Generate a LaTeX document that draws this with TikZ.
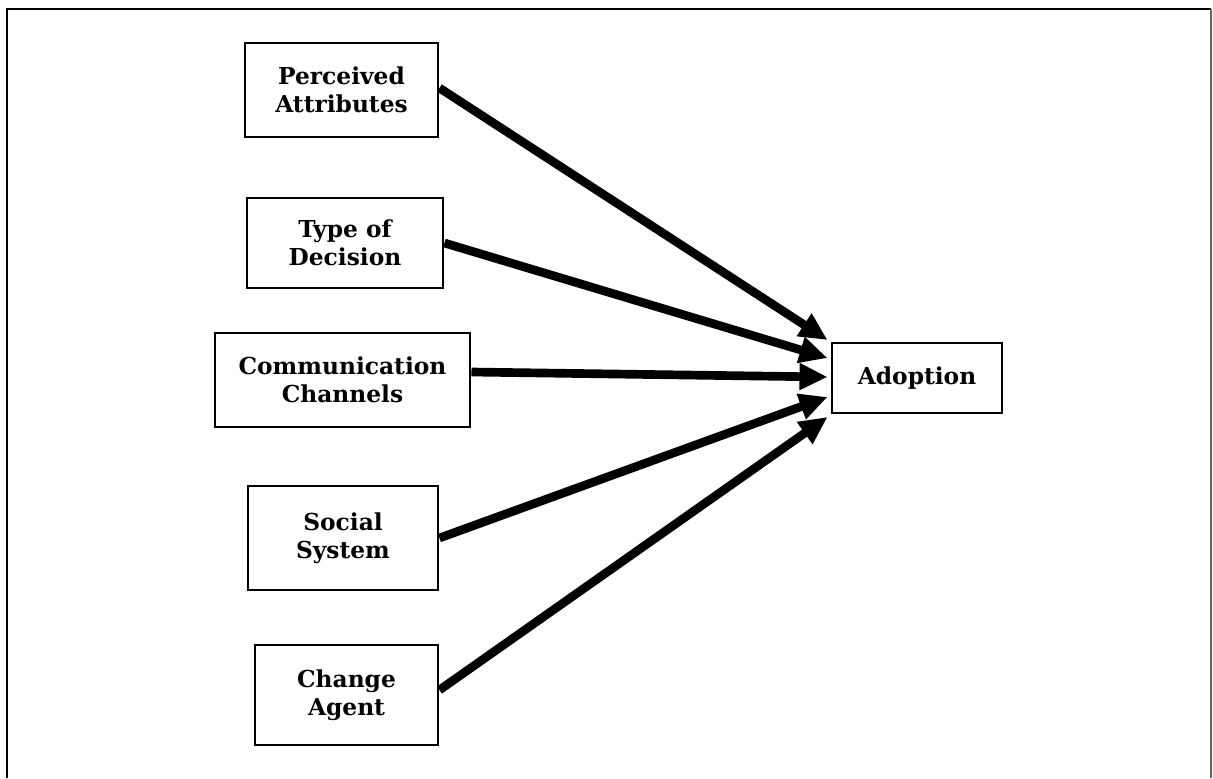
\documentclass[tikz,border=0pt]{standalone}
\usepackage{fontspec}
\setmainfont{DejaVu Serif}
\usetikzlibrary{arrows.meta,calc}
\begin{document}
\begin{tikzpicture}[x=0.75pt,y=-0.75pt,
  factor/.style={draw,line width=2.2pt,rectangle,inner sep=0pt,align=center,
    font=\fontsize{17.5}{21}\selectfont\bfseries},
  link/.style={line width=6.5pt,-{Triangle[length=21pt,width=19pt]}}]
\useasboundingbox (0,0) rectangle (1213,778);
% open outer frame
\draw[line width=2.2pt] (7,778) -- (7,9) -- (1211,9);
\draw[line width=1.2pt,black!60] (1211,9) -- (1211,778);

\node[factor,minimum width=193*0.75pt,minimum height=94*0.75pt] (PA) at (341.5,90) {Perceived\\Attributes};
\node[factor,minimum width=196*0.75pt,minimum height=90*0.75pt] (TD) at (345,243) {Type of\\Decision};
\node[factor,minimum width=255*0.75pt,minimum height=94*0.75pt] (CC) at (342.5,380) {Communication\\Channels};
\node[factor,minimum width=190*0.75pt,minimum height=104*0.75pt] (SS) at (343,538) {Social\\System};
\node[factor,minimum width=183*0.75pt,minimum height=100*0.75pt] (CA) at (346.5,695) {Change\\Agent};
\node[factor,minimum width=170*0.75pt,minimum height=70*0.75pt] (AD) at (917,378) {Adoption};

% arrow tips along the left side of the outcome box
\coordinate (t1) at ($(AD.west)+(-3,-38)$);
\coordinate (t2) at ($(AD.west)+(-3,-20)$);
\coordinate (t3) at ($(AD.west)+(-3,-1)$);
\coordinate (t4) at ($(AD.west)+(-3,19)$);
\coordinate (t5) at ($(AD.west)+(-3,39)$);
% arrow starts on the right side of each factor box
\coordinate (s1) at ($(PA.east)+(0,-2)$);
\coordinate (s3) at ($(CC.east)+(0,-8)$);
\coordinate (s5) at ($(CA.east)+(0,-5)$);

\draw[link] (s1) -- (t1);
\draw[link] (TD.east) -- (t2);
\draw[link] (s3) -- (t3);
\draw[link] (SS.east) -- (t4);
\draw[link] (s5) -- (t5);
\end{tikzpicture}
\end{document}
